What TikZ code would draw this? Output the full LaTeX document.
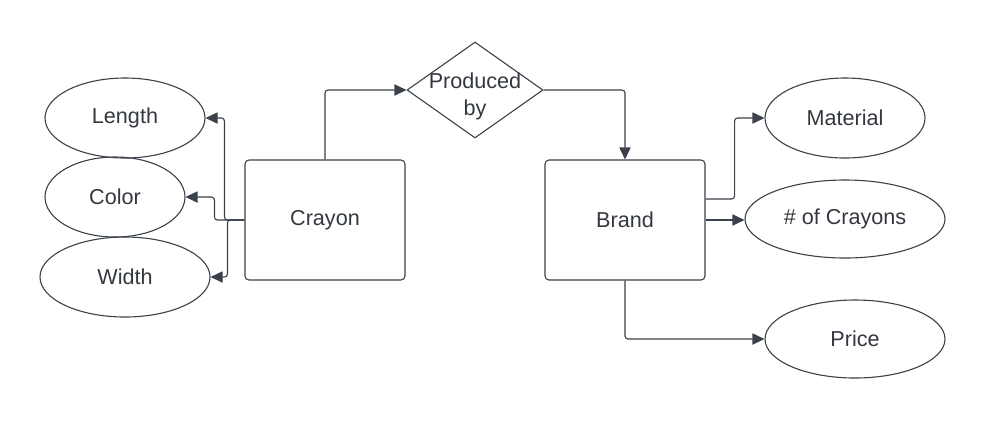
\documentclass[tikz,border=0pt]{standalone}
\usepackage{fontspec}
\setmainfont{Liberation Sans}
\usetikzlibrary{arrows.meta,calc,positioning,shapes.geometric}
\definecolor{Ink}{HTML}{3A414A}
\definecolor{Txt}{HTML}{333840}
\tikzset{attr/.style={ellipse,draw=Ink,line width=.55pt,inner sep=0pt,font=\fontsize{10.8}{13}\selectfont,text=Txt},entity/.style={rectangle,rounded corners=2pt,draw=Ink,line width=.55pt,minimum width=80pt,minimum height=60pt,font=\fontsize{10.8}{13}\selectfont,text=Txt},relation/.style={diamond,aspect=1.42,draw=Ink,line width=.55pt,inner sep=0pt,minimum width=68pt,minimum height=48pt},rellabel/.style={align=center,font=\fontsize{10.8}{13.5}\selectfont,text=Txt,yshift=-3pt},link/.style={-{Triangle[length=6pt,width=5.6pt]},line width=.55pt,draw=Ink,rounded corners=1.5pt}}

\begin{document}
\begin{tikzpicture}[x=.5pt,y=-.5pt]
        \useasboundingbox(0,0)rectangle(985,420);
        \node[entity](crayon)at(325,220){Crayon};
        \node[entity](brand)at(625,220){Brand};
        \node[relation,label={[rellabel]center:Produced\\by}](prod)at(475,90){};
        \node[attr,minimum width=80pt,minimum height=40pt](length)at(125,118){Length};
        \node[attr,minimum width=70pt,minimum height=40pt](color)at(115,197){Color};
        \node[attr,minimum width=85pt,minimum height=40pt](width)at(125,277){Width};
        \node[attr,minimum width=80pt,minimum height=40pt](material)at(845,118){Material};
        \node[attr,minimum width=100pt,minimum height=39pt](count)at(845,219){\# of Crayons};
        \node[attr,minimum width=90pt,minimum height=39pt](price)at(855,339){Price};
        \draw[link](crayon.north)|-(prod.west);
        \draw[link](prod.east)-|(brand.north);
        \draw[link](crayon.west)--++(-20,0)|-(length.east);
        \draw[link](crayon.west)--++(-30,0)|-(color.east);
        \draw[link](crayon.west)--++(-17,0)|-(width.east);
        \draw[link]($(brand.east)+(0,-21)$)--++(29,0)|-(material.west);
        \draw[link](brand.east)--(brand.east-|count.west);
        \draw[link](brand.south)|-(price.west);
      \end{tikzpicture}
\end{document}
